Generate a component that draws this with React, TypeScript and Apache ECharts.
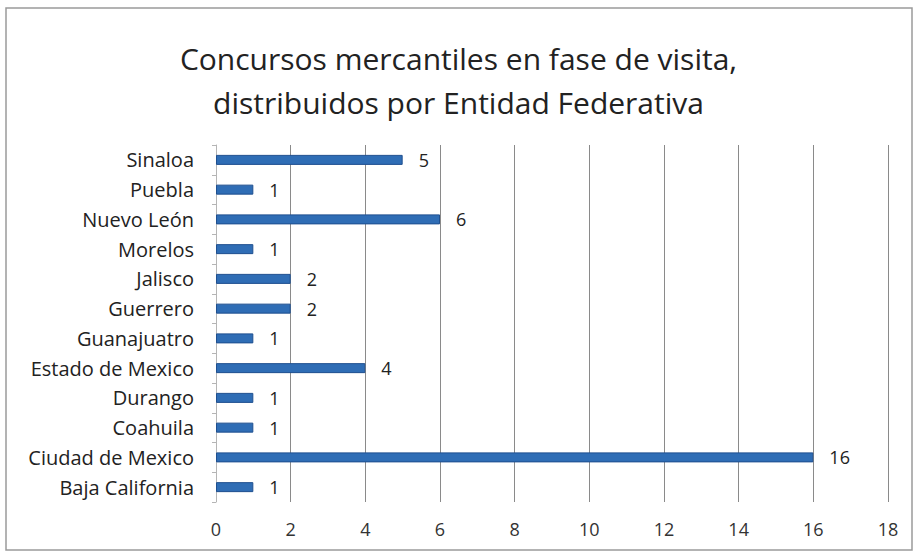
import React, { useEffect, useRef } from "react";
import * as echarts from "echarts";

const titleText = "Concursos mercantiles en fase de visita,\ndistribuidos por Entidad Federativa";
const categories = [
  "Baja California",
  "Ciudad de Mexico",
  "Coahuila",
  "Durango",
  "Estado de Mexico",
  "Guanajuatro",
  "Guerrero",
  "Jalisco",
  "Morelos",
  "Nuevo León",
  "Puebla",
  "Sinaloa",
];
const values = [1, 16, 1, 1, 4, 1, 2, 2, 1, 6, 1, 5];
const axisMin = 0;
const axisMax = 18;
const axisInterval = 2;

export default function App() {
  const ref = useRef<HTMLDivElement>(null);
  useEffect(() => {
    document.body.style.margin = "0";
    const chart = echarts.init(ref.current!, null, { renderer: "svg" });
    const font = "Open Sans, Liberation Sans, sans-serif";
    chart.setOption({
      animation: false,
      backgroundColor: "#ffffff",
      textStyle: { fontFamily: font },
      title: {
        text: titleText,
        left: "center",
        top: 31,
        textStyle: {
          fontFamily: font,
          fontSize: 30,
          fontWeight: "normal",
          color: "#222222",
          lineHeight: 44,
        },
      },
      graphic: [
        {
          type: "rect",
          shape: { x: 6, y: 8, width: 906, height: 542 },
          style: { fill: "none", stroke: "#9a9a9a", lineWidth: 1.5 },
          z: 10,
        },
      ],
      grid: { left: 216, right: 29, top: 145, bottom: 56, containLabel: false },
      xAxis: {
        type: "value",
        min: axisMin,
        max: axisMax,
        interval: axisInterval,
        axisLine: { show: false },
        axisTick: { show: false },
        axisLabel: { fontSize: 18, color: "#333333", margin: 18, fontFamily: font },
        splitLine: { show: true, lineStyle: { color: "#8a8a8a", width: 1 } },
      },
      yAxis: {
        type: "category",
        data: categories,
        axisLine: { show: true, lineStyle: { color: "#b5b5b5" } },
        axisTick: { show: true, length: 4, lineStyle: { color: "#b5b5b5" } },
        axisLabel: { fontSize: 20, color: "#222222", margin: 22, fontFamily: font },
      },
      series: [
        {
          type: "bar",
          data: values,
          barWidth: 10,
          itemStyle: { color: "#2f6db5", borderColor: "#1f4f8f", borderWidth: 1 },
          label: {
            show: true,
            position: "right",
            distance: 16,
            fontSize: 18,
            color: "#222222",
            fontFamily: font,
          },
        },
      ],
    });
    return () => chart.dispose();
  }, []);
  return <div ref={ref} style={{ width: 917, height: 558 }} />;
}
